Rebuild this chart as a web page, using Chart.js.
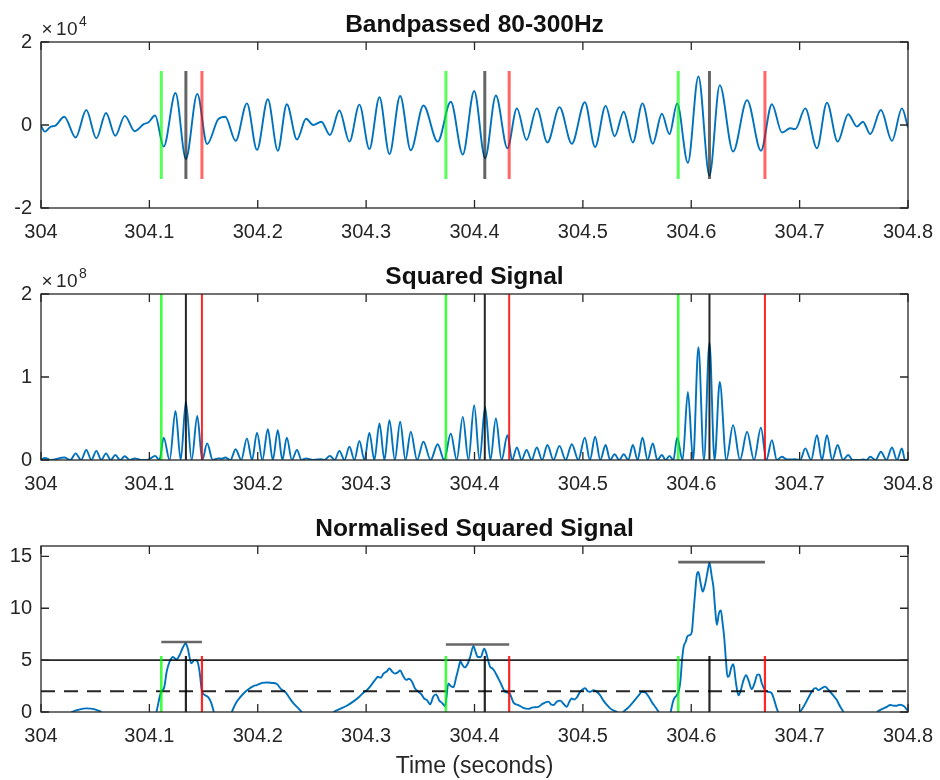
<!DOCTYPE html>
<html>
<head>
<meta charset="utf-8">
<script src="https://cdn.jsdelivr.net/npm/chart.js@4/dist/chart.umd.min.js"></script>
<style>
body{margin:0;background:#fff}
#wrap{position:relative;width:940px;height:780px;background:#fff}
#wrap canvas{position:absolute;left:0}
</style>
</head>
<body>
<div id="wrap">
<canvas id="c1" width="940" height="250" style="top:0"></canvas>
<canvas id="c2" width="940" height="250" style="top:252px"></canvas>
<canvas id="c3" width="940" height="276" style="top:504px"></canvas>
</div>
<script>
// time axis (seconds); all times below are offsets after T0
const T0 = 304;
const xTicks = [304, 304.1, 304.2, 304.3, 304.4, 304.5, 304.6, 304.7, 304.8];

// detected beats
const onsetT = [0.111, 0.3736, 0.588];
const peakT = [0.1337, 0.4095, 0.6168];
const offsetT = [0.1485, 0.432, 0.668];
const peakLevel = [6.75, 6.5, 14.45];
const threshHigh = 5;
const threshLow = 2;

// bandpassed signal, extrema
const bpT = [0,.0035,.009,.013,.0215,.032,.0418,.0511,.06,.0686,.0773,.0866,.0948,.099,.1053,.1132,.1241,.1337,.1442,.1533,
 .1636,.17,.1796,.19,.1993,.2093,.2185,.2268,.2362,.2446,.2511,.2587,.2666,.2753,.2846,.2938,.303,.3123,.3215,.3314,
 .3412,.3529,.366,.3781,.3892,.3997,.4098,.4197,.4304,.4391,.448,.4575,.4673,.4784,.4898,.5018,.5113,.521,.5293,.5377,
 .5461,.555,.5645,.5729,.5799,.587,.5969,.6066,.6168,.6263,.6386,.6515,.6643,.6744,.6837,.6913,.696,.7052,.716,.7252,
 .7351,.7448,.7529,.7584,.7652,.775,.7852,.7944,.8];
const bpV = [-200,-1600,-400,-200,2000,-3000,3600,-3200,2900,-2600,2200,-1500,200,600,2300,-5200,7700,-8200,7500,-4600,
 1400,2000,-3800,5200,-6000,6200,-6200,5000,-3500,1500,0,800,-2400,3500,-4000,4900,-5800,6700,-7000,7000,
 -6100,4700,-4000,5600,-7100,8200,-8000,7100,-5600,4000,-3600,4000,-4200,4300,-4500,5500,-5300,4600,-2700,3200,
 -4200,5200,-4500,2700,-2200,5200,-9100,11700,-12200,9600,-6400,6000,-6200,5000,-1800,-800,-1000,4000,-5600,5400,
 -4000,2600,-400,800,-2200,3600,-3800,4000,-600];

// squared signal, humps and zeros
const sqT = [0,.0035,.009,.0215,.027,.032,.037,.0418,.0465,.0511,.0556,.06,.0643,.0686,.073,.0773,.082,.0866,.0925,.099,
 .1053,.1093,.1132,.1187,.1241,.1289,.1337,.139,.1442,.1488,.1533,.1585,.1636,.167,.17,.1748,.1796,.1848,.19,.1947,
 .1993,.2043,.2093,.2139,.2185,.2227,.2268,.2315,.2362,.2404,.2446,.2511,.2587,.2615,.2666,.271,.2753,.28,.2846,.2892,
 .2938,.2984,.303,.3076,.3123,.3169,.3215,.3265,.3314,.3363,.3412,.347,.3529,.3595,.366,.372,.3781,.3836,.3892,.3944,
 .3997,.4047,.4098,.4147,.4197,.425,.4304,.4347,.4391,.4435,.448,.4527,.4575,.4624,.4673,.4728,.4784,.4841,.4898,.4958,
 .5018,.5065,.5113,.5161,.521,.5251,.5293,.5335,.5377,.5419,.5461,.5505,.555,.5597,.5645,.5687,.5729,.5764,.5799,.5835,
 .587,.592,.5969,.6017,.6066,.6117,.6168,.6215,.6263,.6324,.6386,.645,.6515,.6579,.6643,.6693,.6744,.679,.6837,.6875,
 .6913,.696,.7006,.7052,.7106,.716,.7206,.7252,.7301,.7351,.74,.7448,.749,.7529,.7558,.7584,.7618,.7652,.77,.775,
 .7801,.7852,.7898,.7944,.7972,.8];
const sqV = [0.001e8,0.025e8,0,0.03e8,0,0.08e8,0,0.12e8,0,0.11e8,0,0.08e8,0,0.06e8,0,0.045e8,0,0.02e8,0,0.004e8,
 0.05e8,0,0.27e8,0,0.59e8,0,0.70e8,0,0.53e8,0,0.20e8,0,0.02e8,0.015e8,0.03e8,0,0.13e8,0,0.26e8,0,
 0.33e8,0,0.37e8,0,0.36e8,0,0.27e8,0,0.12e8,0,0.02e8,0.001e8,0.01e8,0,0.05e8,0,0.11e8,0,0.16e8,0,
 0.23e8,0,0.33e8,0,0.44e8,0,0.48e8,0,0.46e8,0,0.34e8,0,0.22e8,0,0.19e8,0,0.32e8,0,0.52e8,0,
 0.66e8,0,0.64e8,0,0.50e8,0,0.30e8,0,0.15e8,0,0.12e8,0,0.15e8,0,0.18e8,0,0.17e8,0,0.19e8,0,
 0.27e8,0,0.28e8,0,0.18e8,0,0.07e8,0,0.07e8,0,0.18e8,0,0.27e8,0,0.20e8,0,0.06e8,0,0.05e8,0,
 0.27e8,0,0.82e8,0,1.36e8,0,1.41e8,0,0.94e8,0,0.42e8,0,0.34e8,0,0.39e8,0,0.24e8,0,0.04e8,0.01e8,
 0.006e8,0.01e8,0,0.14e8,0,0.30e8,0,0.30e8,0,0.18e8,0,0.06e8,0,0.002e8,0,0.006e8,0,0.04e8,0,0.10e8,
 0,0.15e8,0,0.14e8,0,0.004e8];

// normalised squared signal (null = below the axis)
const normT = [.028,.034,.0418,.049,.0557,null,
 .1065,.1111,.1135,.116,.1185,.1218,.1249,.128,.1304,.1335,.1355,.1386,.1417,.1442,.1463,.1485,.1503,.154,.157,.1595,null,
 .176,.18,.1837,.188,.1914,.196,.1991,.204,.2083,.213,.2176,.2215,.2253,.229,.233,.237,.2407,null,
 .2698,.276,.2821,.288,.294,.2975,.3006,.304,.3083,.311,.3135,.316,.319,.3215,.324,.3267,.329,.3314,.334,.3369,
 .3395,.3422,.345,.3483,.351,.3535,.356,.3591,.362,.3646,.3675,.3698,.3729,.3759,.378,.3806,.383,.3852,.387,.3885,
 .391,.3935,.396,.399,.401,.403,.4058,.4089,.4105,.4125,.4144,.4165,.4181,.4212,.4243,.4283,.4323,.4345,.436,.4405,
 .445,.4497,.454,.459,.463,.4682,.471,.4729,.476,.479,.482,.4852,.4875,.4898,.492,.4944,.4975,.5,.5021,.5045,
 .5067,.5098,.5129,.516,.519,.522,.5252,.529,.532,null,
 .537,.5421,.546,.5483,.5515,.5544,.5575,.5606,.564,.5667,.57,null,
 .581,.5836,.5865,.5884,.59,.5915,.593,.595,.5965,.5985,.6005,.602,.6035,.6051,.6066,.6085,.6106,.613,.615,.6168,
 .619,.6205,.622,.6236,.6255,.6273,.629,.6303,.632,.6334,.635,.637,.6389,.641,.6436,.646,.648,.6506,.653,.6558,
 .6585,.661,.6629,.665,.6681,.6712,.6743,.677,.6795,.6804,null,
 .7005,.7036,.7082,.7128,.715,.7174,.7205,.7236,.726,.7282,.731,.7343,.7375,.7405,null,
 .7713,.7745,.7774,.7805,.7836,.787,.7897,.792,.7944,.797,.799,.8];
const normV = [0,0.2,0.35,0.28,0,null,
 0,2.0,2.3,3.9,4.8,5.3,5.06,5.5,6.1,6.6,6.1,4.7,5.0,4.9,3.9,2.0,1.7,1.45,0.9,0,null,
 0,0.9,1.4,1.9,2.2,2.5,2.6,2.8,2.85,2.8,2.7,2.2,1.95,1.4,0.83,0.4,0,null,
 0,0.3,0.6,1.0,1.5,1.86,2.1,2.5,3.1,3.4,3.3,3.7,3.9,4.2,3.9,3.7,3.8,4.0,3.5,3.1,
 3.2,2.95,2.3,1.95,1.7,1.3,1.15,0.75,1.5,1.7,1.1,0.9,0.58,2.75,2.5,2.4,3.3,4.2,4.9,4.6,
 4.3,4.6,5.3,6.35,5.8,5.3,5.3,6.1,5.8,5.0,4.35,4.2,4.0,3.4,2.75,1.95,1.8,1.3,0.9,0.67,
 0.4,0.3,0.45,0.5,0.8,1.0,0.7,0.67,1.0,1.1,0.8,0.5,1.0,1.3,1.2,1.4,1.95,2.2,2.3,2.0,
 1.95,2.1,1.95,1.6,1.1,0.7,0.35,0.1,0,null,
 0,0.45,0.9,1.2,1.6,1.95,1.9,1.5,0.9,0.5,0,null,
 0,1.15,1.6,2.0,3.0,5.0,6.3,6.8,7.3,7.4,7.7,9.5,11.4,13.2,13.5,12.5,11.6,12.4,13.5,14.36,
 13.0,12.0,10.0,8.4,9.5,9.8,8.5,7.3,5.0,3.4,3.5,4.3,4.6,3.0,1.6,2.2,3.0,3.55,3.0,2.2,
 2.8,3.6,3.6,2.8,2.1,1.95,1.8,1.0,0.15,0,null,
 0,0.5,1.4,2.2,2.3,2.1,2.3,2.45,2.2,1.95,1.6,1.15,0.5,0,null,
 0,0.2,0.35,0.5,0.67,0.6,0.6,0.7,0.67,0.5,0.2,0.15];

const FONT = "'Liberation Sans', Arial, Helvetica, sans-serif";
const INK = '#262626';
const BLUE = '#0072BD';

function pts(ts, vs) {
 return ts.map((t, i) => ({ x: t === null ? null : T0 + t, y: vs[i] }));
}
// vertical segments at given times, separated by gaps
function vlines(ts, lo, hi) {
 const out = [];
 ts.forEach(t => { out.push({ x: T0 + t, y: lo }, { x: T0 + t, y: hi }, { x: T0 + t, y: null }); });
 return out;
}
function hbars(t1, t2, lv) {
 const out = [];
 lv.forEach((v, i) => { out.push({ x: T0 + t1[i], y: v }, { x: T0 + t2[i], y: v }, { x: T0 + t2[i], y: null }); });
 return out;
}
function marker(data, color, w, extra) {
 return Object.assign({ data, borderColor: color, borderWidth: w, tension: 0,
 cubicInterpolationMode: 'default', pointRadius: 0, order: 1 }, extra || {});
}

// MATLAB style box with inward ticks and the x10^n note
const boxPlugin = {
 id: 'matlabBox',
 afterDatasetsDraw(chart, args, opts) {
 const { ctx, chartArea: a } = chart;
 const xs = chart.scales.x, ys = chart.scales.y;
 const L = 8;
 ctx.save();
 ctx.strokeStyle = INK;
 ctx.lineWidth = 1.3;
 ctx.beginPath();
 xs.ticks.forEach(t => {
 const p = xs.getPixelForValue(t.value);
 ctx.moveTo(p, a.bottom); ctx.lineTo(p, a.bottom - L);
 ctx.moveTo(p, a.top); ctx.lineTo(p, a.top + L);
 });
 ys.ticks.forEach(t => {
 const p = ys.getPixelForValue(t.value);
 ctx.moveTo(a.left, p); ctx.lineTo(a.left + L, p);
 ctx.moveTo(a.right, p); ctx.lineTo(a.right - L, p);
 });
 ctx.stroke();
 ctx.strokeRect(a.left, a.top, a.right - a.left, a.bottom - a.top);
 if (opts.exponent) {
 ctx.fillStyle = INK;
 ctx.textBaseline = 'alphabetic';
 ctx.font = '19px ' + FONT;
 ctx.fillText('\u00d7', a.left + 0.5, a.top - 7);
 ctx.fillText('1', a.left + 15, a.top - 7);
 ctx.fillText('0', a.left + 26, a.top - 7);
 ctx.font = '14px ' + FONT;
 ctx.fillText(opts.exponent, a.left + 38, a.top - 16);
 }
 ctx.restore();
 }
};

function panel(id, title, datasets, yMin, yMax, yTicks, yDiv, exponent, xTitle) {
 return new Chart(document.getElementById(id), {
 type: 'line',
 data: { datasets },
 options: {
 responsive: false,
 animation: false,
 events: [],
 layout: { padding: { left: 0, right: 32, top: 0, bottom: 0 } },
 elements: { point: { radius: 0 }, line: { cubicInterpolationMode: 'monotone', borderCapStyle: 'butt' } },
 plugins: {
 legend: { display: false },
 tooltip: { enabled: false },
 title: { display: true, text: title, fullSize: false, color: '#111',
 font: { family: FONT, size: 24.5, weight: 'bold' }, padding: { top: 11, bottom: 1.6 } },
 matlabBox: { exponent }
 },
 scales: {
 x: {
 type: 'linear', min: xTicks[0], max: xTicks[xTicks.length - 1],
 grid: { display: false, drawTicks: false }, border: { display: false },
 afterBuildTicks: s => { s.ticks = xTicks.map(v => ({ value: v })); },
 afterFit: s => { s.height = xTitle ? 68 : 42; s.paddingLeft = 0; s.paddingRight = 0; },
 ticks: { autoSkip: false, maxRotation: 0, padding: 12, color: INK,
 font: { family: FONT, size: 20 }, callback: v => String(+v.toFixed(1)) },
 title: { display: !!xTitle, text: xTitle || '', color: INK,
 font: { family: FONT, size: 23 }, padding: { top: 0, bottom: 0 } }
 },
 y: {
 min: yMin, max: yMax,
 grid: { display: false, drawTicks: false }, border: { display: false },
 afterBuildTicks: s => { s.ticks = yTicks.map(v => ({ value: v })); },
 afterFit: s => { s.width = 41; s.paddingTop = 0; s.paddingBottom = 0; },
 ticks: { padding: 9, color: INK, font: { family: FONT, size: 20 },
 callback: v => String(+(v / yDiv).toFixed(2)) }
 }
 }
 },
 plugins: [boxPlugin]
 });
}

// top: bandpassed
panel('c1', 'Bandpassed 80-300Hz', [
 marker(vlines(onsetT, -13000, 13000), 'rgba(0,255,0,0.65)', 3),
 marker(vlines(peakT, -13000, 13000), 'rgba(0,0,0,0.6)', 3),
 marker(vlines(offsetT, -13000, 13000), 'rgba(255,0,0,0.6)', 3),
 { data: pts(bpT, bpV), borderColor: BLUE, borderWidth: 1.9, order: 10 }
], -20000, 20000, [-20000, 0, 20000], 1e4, '4');

// middle: squared
panel('c2', 'Squared Signal', [
 marker(vlines(onsetT, 0, 2e8), 'rgba(0,255,0,0.75)', 2.6),
 marker(vlines(peakT, 0, 2e8), 'rgba(0,0,0,0.85)', 2),
 marker(vlines(offsetT, 0, 2e8), 'rgba(255,0,0,0.85)', 2),
 { data: pts(sqT, sqV), borderColor: BLUE, borderWidth: 1.9, order: 10 }
], 0, 2e8, [0, 1e8, 2e8], 1e8, '8');

// bottom: normalised
panel('c3', 'Normalised Squared Signal', [
 marker(vlines(onsetT, 0, 5.4), 'rgba(0,255,0,0.75)', 2.6),
 marker(vlines(peakT, 0, 5.4), 'rgba(0,0,0,0.85)', 2.2),
 marker(vlines(offsetT, 0, 5.4), 'rgba(255,0,0,0.85)', 2.2),
 marker(hbars(onsetT, offsetT, peakLevel), 'rgba(0,0,0,0.6)', 2.6),
 marker([{ x: xTicks[0], y: threshHigh }, { x: xTicks[xTicks.length - 1], y: threshHigh }], 'rgba(0,0,0,0.85)', 1.8),
 marker([{ x: xTicks[0], y: threshLow }, { x: xTicks[xTicks.length - 1], y: threshLow }], 'rgba(0,0,0,0.85)', 1.8, { borderDash: [14, 9] }),
 { data: pts(normT, normV), borderColor: BLUE, borderWidth: 1.9, order: 10 }
], 0, 16, [0, 5, 10, 15], 1, null, 'Time (seconds)');
</script>
</body>
</html>
